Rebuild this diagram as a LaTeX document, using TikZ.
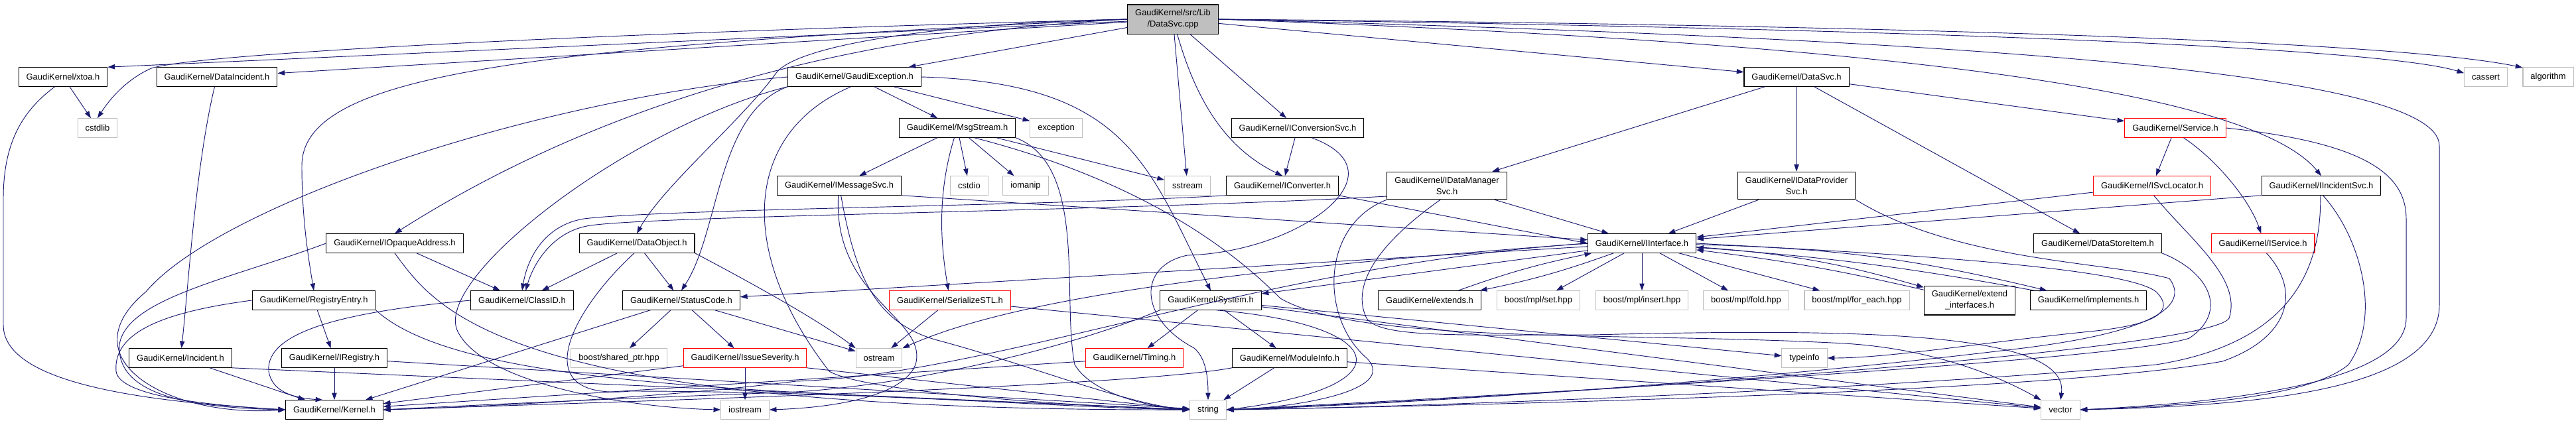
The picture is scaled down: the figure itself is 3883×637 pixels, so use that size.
\documentclass[tikz,border=0pt]{standalone}
\usepackage{fontspec}
\setmainfont{Liberation Sans}
\usepackage{tikz}
\usetikzlibrary{arrows.meta}
\definecolor{edgeblue}{HTML}{191970}
\definecolor{sysgray}{HTML}{BFBFBF}
\tikzset{
	% Node styles for the include graph: local header, system header, cut header, the file itself
	gk node/.style={rectangle,draw=black,line width=0.8pt,minimum height=21.4pt,inner xsep=8.6pt,inner ysep=5.6pt,align=center},
	sys node/.style={gk node,draw=sysgray},
	cut node/.style={gk node,draw=red},
	file node/.style={gk node,fill=sysgray},
	inc edge/.style={draw=edgeblue,line width=0.7pt,-{Triangle[length=8pt,width=5.5pt]}}
}

\begin{document}
\begin{tikzpicture}[x=0.75pt,y=-0.75pt,font=\fontsize{9.7}{12.8}\selectfont]
	% macro for placing one header box
	\newcommand{\hdr}[4][gk node]{\node[#1](#2)at(#3){#4};}
	\useasboundingbox (0,0) rectangle (3883,637);

	\hdr[file node]{root}{1768,29}{GaudiKernel/src/Lib\\/DataSvc.cpp}

	\hdr{xtoa}{95,116}{GaudiKernel/xtoa.h}
	\hdr{dincident}{327,116}{GaudiKernel/DataIncident.h}
	\hdr{gexc}{1288,116}{GaudiKernel/GaudiException.h}
	\hdr{datasvch}{2708,116}{GaudiKernel/DataSvc.h}
	\hdr[sys node]{cassert}{3747,116}{cassert}
	\hdr[sys node]{algorithm}{3841,116}{algorithm}

	\hdr[sys node]{cstdlib}{147,193}{cstdlib}
	\hdr{msgstream}{1443,193}{GaudiKernel/MsgStream.h}
	\hdr[sys node]{exception}{1592,193}{exception}
	\hdr{iconvsvc}{1956,193}{GaudiKernel/IConversionSvc.h}
	\hdr[cut node]{service}{3279,193}{GaudiKernel/Service.h}

	\hdr{imsgsvc}{1265,280}{GaudiKernel/IMessageSvc.h}
	\hdr[sys node]{cstdio}{1461,280}{cstdio}
	\hdr[sys node]{iomanip}{1546,280}{iomanip}
	\hdr[sys node]{sstream}{1790,280}{sstream}
	\hdr{iconverter}{1933,280}{GaudiKernel/IConverter.h}
	\hdr{idmsvc}{2181,280}{GaudiKernel/IDataManager\\Svc.h}
	\hdr{idpsvc}{2708,280}{GaudiKernel/IDataProvider\\Svc.h}
	\hdr[cut node]{isvcloc}{3244,280}{GaudiKernel/ISvcLocator.h}
	\hdr{iincsvc}{3499,280}{GaudiKernel/IIncidentSvc.h}

	\hdr{iopaque}{595,367}{GaudiKernel/IOpaqueAddress.h}
	\hdr{dataobj}{960,367}{GaudiKernel/DataObject.h}
	\hdr{iinterface}{2475,367}{GaudiKernel/IInterface.h}
	\hdr{dsitem}{3162,367}{GaudiKernel/DataStoreItem.h}
	\hdr[cut node]{iservice}{3411,367}{GaudiKernel/IService.h}

	\hdr{regentry}{473,453}{GaudiKernel/RegistryEntry.h}
	\hdr{classid}{787,453}{GaudiKernel/ClassID.h}
	\hdr{statuscode}{1027,453}{GaudiKernel/StatusCode.h}
	\hdr[cut node]{serialize}{1432,453}{GaudiKernel/SerializeSTL.h}
	\hdr{system}{1825,453}{GaudiKernel/System.h}
	\hdr{extends}{2155,453}{GaudiKernel/extends.h}
	\hdr[sys node]{mplset}{2319,453}{boost/mpl/set.hpp}
	\hdr[sys node]{mplinsert}{2475,453}{boost/mpl/insert.hpp}
	\hdr[sys node]{mplfold}{2632,453}{boost/mpl/fold.hpp}
	\hdr[sys node]{mplforeach}{2799,453}{boost/mpl/for\_each.hpp}
	\hdr{extifs}{2969,453}{GaudiKernel/extend\\\_interfaces.h}
	\hdr{implements}{3148,453}{GaudiKernel/implements.h}

	\hdr{incident}{272,540}{GaudiKernel/Incident.h}
	\hdr{iregistry}{504,540}{GaudiKernel/IRegistry.h}
	\hdr[sys node]{sharedptr}{933,540}{boost/shared\_ptr.hpp}
	\hdr[cut node]{issuesev}{1123,540}{GaudiKernel/IssueSeverity.h}
	\hdr[sys node]{ostream}{1325,540}{ostream}
	\hdr[cut node]{timing}{1710,540}{GaudiKernel/Timing.h}
	\hdr{moduleinfo}{1944,540}{GaudiKernel/ModuleInfo.h}
	\hdr[sys node]{typeinfo}{2720,540}{typeinfo}

	\hdr{kernel}{504,618}{GaudiKernel/Kernel.h}
	\hdr[sys node]{iostream}{1123,618}{iostream}
	\hdr[sys node]{string}{1821,618}{string}
	\hdr[sys node]{vector}{3106,618}{vector}

	% includes of the file itself
	\draw[inc edge] (root) -- (xtoa.north east);
	\draw[inc edge] (root.west) .. controls (900,50) and (300,80) .. (228,103) .. controls (190,120) and (165,150) .. (cstdlib.north);
	\draw[inc edge] (root) -- (dincident);
	\draw[inc edge] (root) -- (gexc);
	\draw[inc edge] (root.west) .. controls (800,70) and (455,110) .. (455,250) .. controls (455,330) and (465,390) .. (regentry.north);
	\draw[inc edge] (root.west) .. controls (1200,55) and (850,190) .. (iopaque.north);
	\draw[inc edge] (root.west) .. controls (1400,35) and (1200,70) .. (1170,110) .. controls (1120,180) and (1000,280) .. (dataobj.north);
	\draw[inc edge] (root) -- (sstream);
	\draw[inc edge] (root) .. controls (1800,140) and (1840,220) .. (iconverter.north);
	\draw[inc edge] (root) -- (iconvsvc);
	\draw[inc edge] (root) -- (datasvch);
	\draw[inc edge] (root.east) .. controls (2700,60) and (3380,120) .. (iincsvc.north);
	\draw[inc edge] (root.east) .. controls (3000,60) and (3677,110) .. (3677,220) -- (3677,460) .. controls (3677,590) and (3400,612) .. (vector.east);
	\draw[inc edge] (root.east) .. controls (3000,45) and (3600,75) .. (cassert.170);
	\draw[inc edge] (root.east) .. controls (3100,40) and (3650,70) .. (algorithm.160);

	% left part
	\draw[inc edge] (xtoa) -- (cstdlib);
	\draw[inc edge] (xtoa.230) .. controls (30,170) and (5,220) .. (5,300) -- (5,490) .. controls (5,575) and (200,605) .. (kernel.west);
	\draw[inc edge] (dincident) .. controls (295,250) and (285,420) .. (incident);
	\draw[inc edge] (incident) -- (kernel);
	\draw[inc edge] (incident.south east) -- (string.west);
	\draw[inc edge] (iregistry) -- (kernel);
	\draw[inc edge] (iregistry) -- (string);
	\draw[inc edge] (regentry.west) .. controls (250,470) and (170,500) .. (175,560) .. controls (180,600) and (330,612) .. (kernel.west);
	\draw[inc edge] (regentry) -- (iregistry);
	\draw[inc edge] (regentry.south east) .. controls (700,590) and (1200,590) .. (string.west);
	\draw[inc edge] (iopaque.west) .. controls (350,420) and (190,450) .. (180,520) .. controls (175,600) and (300,615) .. (kernel.west);
	\draw[inc edge] (iopaque) -- (classid);
	\draw[inc edge] (iopaque.south) .. controls (660,470) and (760,620) .. (string.west);
	\draw[inc edge] (dataobj) -- (classid);
	\draw[inc edge] (dataobj) -- (statuscode);
	\draw[inc edge] (dataobj.south east) .. controls (1120,420) and (1230,480) .. (ostream.north west);
	\draw[inc edge] (dataobj.255) .. controls (860,470) and (790,605) .. (950,590) .. controls (1300,590) and (1600,615) .. (string.west);
	\draw[inc edge] (classid.west) .. controls (520,470) and (400,500) .. (405,560) .. controls (410,590) and (440,600) .. (kernel.140);
	\draw[inc edge] (statuscode) -- (kernel);
	\draw[inc edge] (statuscode) -- (sharedptr);
	\draw[inc edge] (statuscode) -- (issuesev);
	\draw[inc edge] (statuscode) -- (ostream);
	\draw[inc edge] (issuesev) -- (kernel);
	\draw[inc edge] (issuesev) -- (iostream);
	\draw[inc edge] (issuesev.south east) -- (string.west);

	% GaudiException.h
	\draw[inc edge] (gexc.west) .. controls (800,150) and (330,310) .. (220,440) .. controls (100,540) and (250,630) .. (kernel.west);
	\draw[inc edge] (gexc.south west) .. controls (950,190) and (650,420) .. (690,500) .. controls (730,580) and (950,615) .. (iostream.west);
	\draw[inc edge] (gexc.south west) .. controls (1080,170) and (1085,350) .. (statuscode.north);
	\draw[inc edge] (gexc.250) .. controls (1120,200) and (1110,380) .. (1250,560) .. controls (1300,590) and (1600,612) .. (string.west);
	\draw[inc edge] (gexc) -- (msgstream);
	\draw[inc edge] (gexc) -- (exception.165);
	\draw[inc edge] (gexc.east) .. controls (1700,125) and (1730,250) .. (system.north);

	% MsgStream.h and IMessageSvc.h
	\draw[inc edge] (msgstream) -- (imsgsvc);
	\draw[inc edge] (msgstream) .. controls (1410,300) and (1420,380) .. (serialize);
	\draw[inc edge] (msgstream) -- (cstdio);
	\draw[inc edge] (msgstream) -- (iomanip);
	\draw[inc edge] (msgstream) -- (sstream);
	\draw[inc edge] (msgstream.-30) .. controls (1750,280) and (1880,400) .. (1930,450) .. controls (2050,520) and (2450,500) .. (2780,518) .. controls (2900,525) and (3000,560) .. (vector.north west);
	\draw[inc edge] (msgstream.south east) .. controls (1640,250) and (1600,450) .. (1620,550) .. controls (1650,600) and (1750,615) .. (string.west);
	\draw[inc edge] (imsgsvc.south east) -- (iinterface);
	\draw[inc edge] (imsgsvc.-95) .. controls (1255,450) and (1400,480) .. (1380,550) .. controls (1360,600) and (1250,615) .. (iostream.east);
	\draw[inc edge] (imsgsvc.-80) .. controls (1290,420) and (1320,490) .. (1420,515) .. controls (1550,550) and (1700,610) .. (string.west);
	\draw[inc edge] (serialize) -- (ostream);
	\draw[inc edge] (serialize) -- (vector);

	% conversion and data manager services
	\draw[inc edge] (iconvsvc) -- (iconverter);
	\draw[inc edge] (iconvsvc.-35) .. controls (2120,260) and (1960,380) .. (1790,385) .. controls (1715,400) and (1715,480) .. (1800,525) .. controls (1818,540) and (1821,570) .. (string.north);
	\draw[inc edge] (iconverter.south east) -- (iinterface.west);
	\draw[inc edge] (iconverter.south west) .. controls (1600,310) and (1000,315) .. (880,330) .. controls (820,340) and (795,390) .. (classid.north);
	\draw[inc edge] (idmsvc.190) .. controls (1700,318) and (1000,325) .. (890,340) .. controls (835,348) and (805,395) .. (classid.70);
	\draw[inc edge] (idmsvc) -- (iinterface);
	\draw[inc edge] (idmsvc.south west) .. controls (1990,340) and (1990,480) .. (2060,540) .. controls (2110,590) and (1950,615) .. (string.east);
	\draw[inc edge] (idmsvc.-115) .. controls (2060,380) and (2040,440) .. (2060,480) .. controls (2080,510) and (2200,505) .. (2400,505) .. controls (2800,495) and (3120,500) .. (vector.north);

	% DataSvc.h and the right part
	\draw[inc edge] (datasvch) -- (idmsvc);
	\draw[inc edge] (datasvch) -- (idpsvc);
	\draw[inc edge] (datasvch) -- (dsitem);
	\draw[inc edge] (datasvch) -- (service);
	\draw[inc edge] (idpsvc) -- (iinterface);
	\draw[inc edge] (idpsvc.south east) .. controls (2950,395) and (3180,395) .. (3270,420) .. controls (3300,460) and (3250,500) .. (3050,525) .. controls (2600,580) and (2100,610) .. (string.east);
	\draw[inc edge] (dsitem.south east) .. controls (3330,410) and (3360,470) .. (3300,510) .. controls (3200,545) and (2200,600) .. (string.east);
	\draw[inc edge] (service) -- (isvcloc);
	\draw[inc edge] (service.-50) .. controls (3340,240) and (3390,300) .. (iservice.100);
	\draw[inc edge] (service.east) .. controls (3560,215) and (3627,260) .. (3627,330) -- (3627,480) .. controls (3627,570) and (3400,605) .. (vector.east);
	\draw[inc edge] (isvcloc) -- (iinterface);
	\draw[inc edge] (isvcloc.-80) .. controls (3300,360) and (3380,420) .. (3360,480) .. controls (3330,530) and (2300,600) .. (string.east);
	\draw[inc edge] (iincsvc.south west) -- (iinterface);
	\draw[inc edge] (iincsvc.-95) .. controls (3500,420) and (3440,520) .. (3250,550) .. controls (2800,590) and (2100,615) .. (string.east);
	\draw[inc edge] (iincsvc.-80) .. controls (3560,360) and (3590,480) .. (3540,550) .. controls (3480,600) and (3300,612) .. (vector.east);
	\draw[inc edge] (iservice.-70) .. controls (3470,440) and (3450,510) .. (3350,545) .. controls (3100,590) and (2300,610) .. (string.east);

	% IInterface.h
	\draw[inc edge] (iinterface) -- (system);
	\draw[inc edge] (iinterface) -- (statuscode);
	\draw[inc edge] (iinterface.west) .. controls (1950,400) and (1550,440) .. (ostream.north east);
	\draw[inc edge] (iinterface.west) .. controls (1900,400) and (1500,565) .. (1200,575) .. controls (1000,600) and (700,615) .. (kernel.east);
	\draw[inc edge] (iinterface) to[bend left=4] (extends);
	\draw[inc edge] (extends) to[bend left=4] (iinterface);
	\draw[inc edge] (iinterface) -- (mplset);
	\draw[inc edge] (iinterface) -- (mplinsert);
	\draw[inc edge] (iinterface) -- (mplfold);
	\draw[inc edge] (iinterface) -- (mplforeach);
	\draw[inc edge] (iinterface) to[bend left=6] (extifs);
	\draw[inc edge] (extifs) to[bend right=3] (iinterface);
	\draw[inc edge] (iinterface) to[bend left=6] (implements);
	\draw[inc edge] (implements) to[bend right=3] (iinterface);
	\draw[inc edge] (iinterface.east) .. controls (2800,380) and (3200,400) .. (3250,440) .. controls (3280,470) and (3250,490) .. (3150,500) .. controls (3000,515) and (2850,540) .. (typeinfo.east);

	% System.h and below
	\draw[inc edge] (system.south west) .. controls (1600,530) and (1350,585) .. (1180,592) .. controls (900,602) and (700,612) .. (kernel.east);
	\draw[inc edge] (system) -- (timing);
	\draw[inc edge] (system) -- (moduleinfo);
	\draw[inc edge] (system.-60) .. controls (2100,490) and (2120,585) .. (string.east);
	\draw[inc edge] (system) -- (typeinfo);
	\draw[inc edge] (system) -- (vector);
	\draw[inc edge] (timing) -- (kernel);
	\draw[inc edge] (moduleinfo.south west) .. controls (1700,585) and (800,610) .. (kernel.east);
	\draw[inc edge] (moduleinfo) -- (string);
	\draw[inc edge] (moduleinfo) -- (vector);
\end{tikzpicture}
\end{document}
